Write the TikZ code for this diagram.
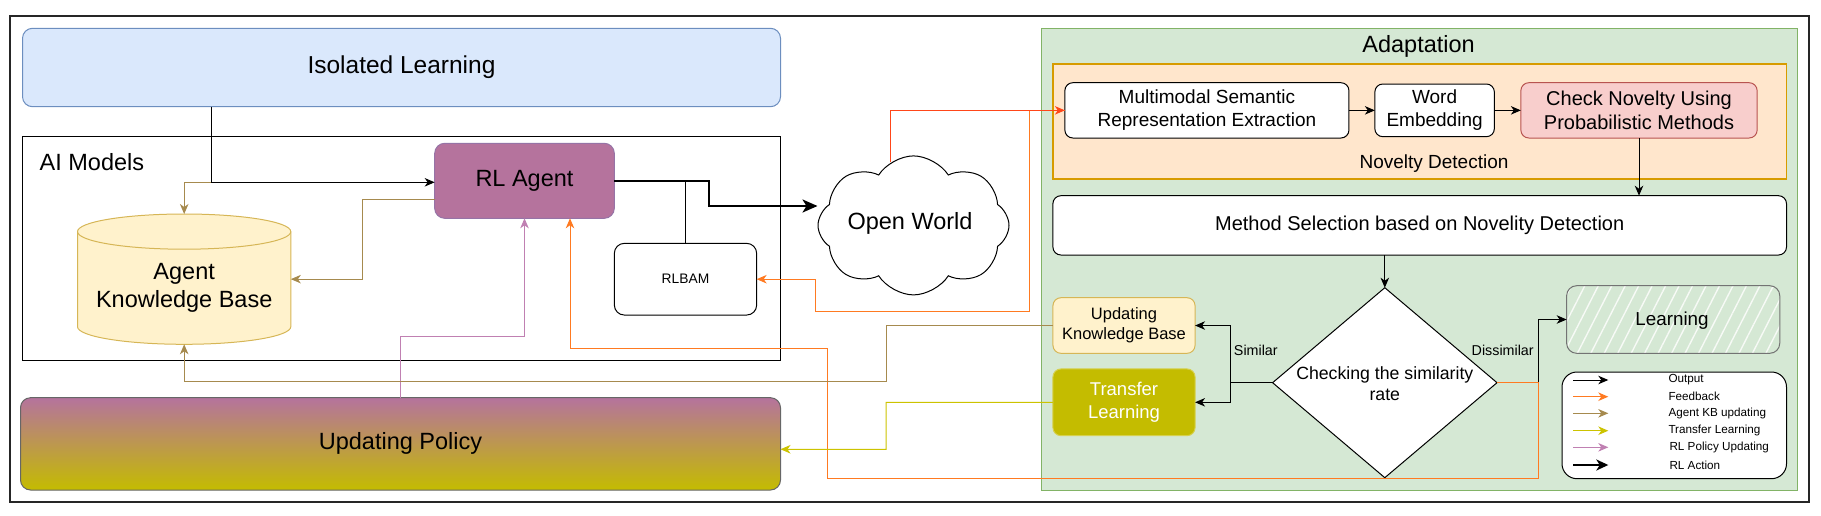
\documentclass[tikz,border=0pt]{standalone}
\usepackage{fontspec}
\setmainfont{Liberation Sans}
\usetikzlibrary{arrows.meta,shapes.geometric,shapes.symbols,patterns.meta,calc}
\definecolor{isofill}{HTML}{DAE8FC}
\definecolor{isodraw}{HTML}{6C8EBF}
\definecolor{rlfill}{HTML}{B5739D}
\definecolor{rldraw}{HTML}{9673A6}
\definecolor{kbfill}{HTML}{FFF2CC}
\definecolor{kbdraw}{HTML}{D6B656}
\definecolor{adfill}{HTML}{D5E8D4}
\definecolor{addraw}{HTML}{82B366}
\definecolor{novfill}{HTML}{FFE6CC}
\definecolor{novdraw}{HTML}{D79B00}
\definecolor{chkfill}{HTML}{F8CECC}
\definecolor{chkdraw}{HTML}{B85450}
\definecolor{tlfill}{HTML}{C4BC00}
\definecolor{fbc}{HTML}{FF7A21}
\definecolor{redc}{HTML}{FF4619}
\definecolor{kbc}{HTML}{A68A4E}
\definecolor{tlc}{HTML}{CCC300}
\definecolor{polc}{HTML}{C080B2}
\tikzset{
  box/.style={draw, line width=1pt, rounded corners=8pt, inner sep=0pt, outer sep=0pt, align=center},
  arr/.style={-{Stealth[length=10pt,width=8.5pt,inset=3pt]}, line width=1pt},
  act/.style={-{Stealth[length=15pt,width=13pt,inset=4pt]}, line width=2.4pt},
  bigtxt/.style={font=\fontsize{23.5}{28.2}\selectfont},
  midtxt/.style={font=\fontsize{19}{23.4}\selectfont},
  smalltxt/.style={font=\fontsize{14.3}{17}\selectfont},
  legtxt/.style={font=\fontsize{11.7}{14}\selectfont, anchor=west, inner sep=0pt},
}
\begin{document}
\begin{tikzpicture}[x=1pt,y=-1pt]
\useasboundingbox (0,0) rectangle (1821,515);
\draw[line width=1.3pt, draw=black!85] (10,16) rectangle (1809,502);

% ---------- left part ----------
\node[box, fill=isofill, draw=isodraw, rounded corners=10pt, minimum width=758pt, minimum height=78.4pt, font=\fontsize{24.5}{29}\selectfont] (iso) at (401.5,67.5) {Isolated Learning};
\node[draw, line width=1pt, minimum width=758pt, minimum height=224pt, inner sep=0pt, outer sep=0pt] (aim) at (401.5,248) {};
\node[bigtxt, anchor=west, inner sep=0pt] (aimlbl) at (39.5,161.7) {AI Models};
\node[box, fill=rlfill, draw=rldraw, rounded corners=10pt, minimum width=179.6pt, minimum height=75pt, bigtxt] (rl) at (524.5,180.8) {RL Agent};

% cylinder
\filldraw[fill=kbfill, draw=kbdraw, line width=1pt]
  (77.5,231.6) -- (77.5,326.7) arc[start angle=180, end angle=0, x radius=106.65, y radius=17.6]
  -- (290.8,231.6) arc[start angle=0, end angle=-180, x radius=106.65, y radius=17.6] -- cycle;
\draw[draw=kbdraw, line width=1pt] (77.5,231.6) arc[start angle=180, end angle=0, x radius=106.65, y radius=17.6];
\node[minimum width=213.3pt, minimum height=130.3pt, inner sep=0pt, outer sep=0pt] (kb) at (184.2,279.15) {};
\node[bigtxt, align=center] (kbtxt) at (184.2,287.5) {Agent\\Knowledge Base};

\node[box, fill=white, draw=black, rounded corners=10pt, minimum width=142.3pt, minimum height=71.7pt, font=\fontsize{13.8}{16}\selectfont] (rlbam) at (685.5,279.2) {RLBAM};
\node[box, draw=black!60, rounded corners=10pt, top color=rlfill, bottom color=tlfill, minimum width=760pt, minimum height=92.3pt, bigtxt] (pol) at (400.5,443.85) {Updating Policy};

\node[cloud, cloud puffs=8, cloud puff arc=115, aspect=1.4, draw, fill=white, line width=1pt, minimum width=191pt, minimum height=139pt, inner sep=0pt] (ow) at (913.5,225.4) {};
\node[bigtxt] (owtxt) at (910,223.5) {Open World};

% ---------- right part ----------
\node[draw=addraw, fill=adfill, line width=1pt, minimum width=756.7pt, minimum height=461.7pt, inner sep=0pt, outer sep=0pt] (adapt) at (1419.35,259.15) {};
\node[bigtxt] (adlbl) at (1418.6,46.7) {Adaptation};
\node[draw=novdraw, fill=novfill, line width=1.2pt, minimum width=733.6pt, minimum height=115pt, inner sep=0pt, outer sep=0pt] (nov) at (1419.7,121.5) {};
\node[midtxt] (novlbl) at (1434,163.3) {Novelty Detection};
\node[box, fill=white, minimum width=284.1pt, minimum height=55.3pt, midtxt] (multi) at (1206.9,110.35) {Multimodal Semantic\\Representation Extraction};
\node[box, fill=white, minimum width=119.5pt, minimum height=52.7pt, midtxt] (word) at (1434.6,110.35) {Word\\Embedding};
\node[box, fill=chkfill, draw=chkdraw, minimum width=236.3pt, minimum height=55.3pt, font=\fontsize{20}{23.4}\selectfont] (check) at (1639,110.35) {Check Novelty Using\\Probabilistic Methods};
\node[box, fill=white, minimum width=733.6pt, minimum height=59.3pt, font=\fontsize{20}{24}\selectfont] (msel) at (1419.7,225.35) {Method Selection based on Novelity Detection};

\node[diamond, draw, fill=white, line width=1pt, minimum width=224.4pt, minimum height=190pt, inner sep=0pt, outer sep=0pt] (dia) at (1384.8,382.7) {};
\node[font=\fontsize{17.7}{20.7}\selectfont, align=center] (diatxt) at (1384.8,383.7) {Checking the similarity\\rate};
\node[box, fill=kbfill, draw=kbdraw, minimum width=142.1pt, minimum height=55.6pt, font=\fontsize{16.5}{20}\selectfont] (ukb) at (1124,325.5) {Updating\\Knowledge Base};
\node[box, fill=tlfill, draw=tlfill!70!white, text=white, minimum width=142.1pt, minimum height=66.7pt, font=\fontsize{18.5}{23.3}\selectfont] (tl) at (1124,402.3) {Transfer\\Learning};
\node[box, draw=black!55, rounded corners=10pt, preaction={fill=adfill}, pattern={Lines[angle=63,distance=12pt,line width=1.4pt]}, pattern color=white!80!adfill, minimum width=213.1pt, minimum height=67.6pt] (learn) at (1673.2,319.5) {};
\node[font=\fontsize{18.8}{22}\selectfont] (learntxt) at (1672,320.5) {Learning};
\node[smalltxt] (simlbl) at (1255.8,350) {Similar};
\node[smalltxt] (dislbl) at (1502.7,350) {Dissimilar};

% legend
\node[draw, fill=white, rounded corners=15pt, line width=1pt, minimum width=224.5pt, minimum height=106.7pt, inner sep=0pt] (leg) at (1674.25,425.35) {};
\draw[arr, black] (1573.3,380) -- (1608.3,380);
\draw[arr, fbc] (1573.3,396.7) -- (1608.3,396.7);
\draw[arr, kbc] (1573.3,413.3) -- (1608.3,413.3);
\draw[arr, tlc] (1573.3,430.7) -- (1608.3,430.7);
\draw[arr, polc] (1573.3,447.3) -- (1608.3,447.3);
\draw[-{Stealth[length=12pt,width=11pt,inset=3.5pt]}, line width=2.2pt, black] (1573.3,465) -- (1608.3,465);
\node[legtxt] (l1) at (1668.3,380) {Output};
\node[legtxt] (l2) at (1668.3,396.7) {Feedback};
\node[legtxt] (l3) at (1668.3,413.3) {Agent KB updating};
\node[legtxt] (l4) at (1668.3,430.7) {Transfer Learning};
\node[legtxt] (l5) at (1669.3,447.3) {RL Policy Updating};
\node[legtxt] (l6) at (1669.3,465) {RL Action};

% ---------- connectors ----------
\coordinate (isoout) at ($(iso.south)+(-189.8,0)$);
\draw[arr, kbc] (isoout) |- (kb.north |- 0,182.3) -- (kb.north);
\draw[arr, black] (isoout) |- ($(rl.west)+(0,1.5)$);
\draw[arr, kbc] ($(rl.west)+(0,18.5)$) -- (362.8,199.3) |- (kb.east);
\draw[line width=1.4pt] (rlbam.north |- rl.east) -- (rlbam.north);
\draw[act] (rl.east) -- (709,180.8) |- (ow.west |- 0,206);
\draw[arr, polc] (pol.north) |- (rl.south |- 0,336) -- (rl.south);

\draw[arr, fbc] (multi.west) -| (1029.3,311.7) -| (815.7,279.2) -- (rlbam.east);
\draw[arr, redc] (ow.110) |- (multi.west);

\draw[arr] (multi.east) -- (word.west);
\draw[arr] (word.east) -- (check.west);
\draw[arr] (check.south) -- (check.south |- msel.north);
\draw[arr] (dia.north |- msel.south) -- (dia.north);
\draw[arr] (dia.west) -- ++(-42.5,0) |- (ukb.east);
\draw[arr] (dia.west) -- ++(-42.5,0) |- (tl.east);
\draw[arr] (dia.east) -- (1538.2,382.7) |- (learn.west);
\draw[arr, fbc] (dia.east) -| (1538.2,478.3) -| (827.8,348.3) -| ($(rl.south)+(45.5,0)$);
\draw[arr, kbc] (ukb.west) -| (886.2,381) -| (kb.south);
\draw[arr, tlc] (tl.west) -| (886.2,449.3) -- ($(pol.east)+(0,5.4)$);
\end{tikzpicture}
\end{document}
